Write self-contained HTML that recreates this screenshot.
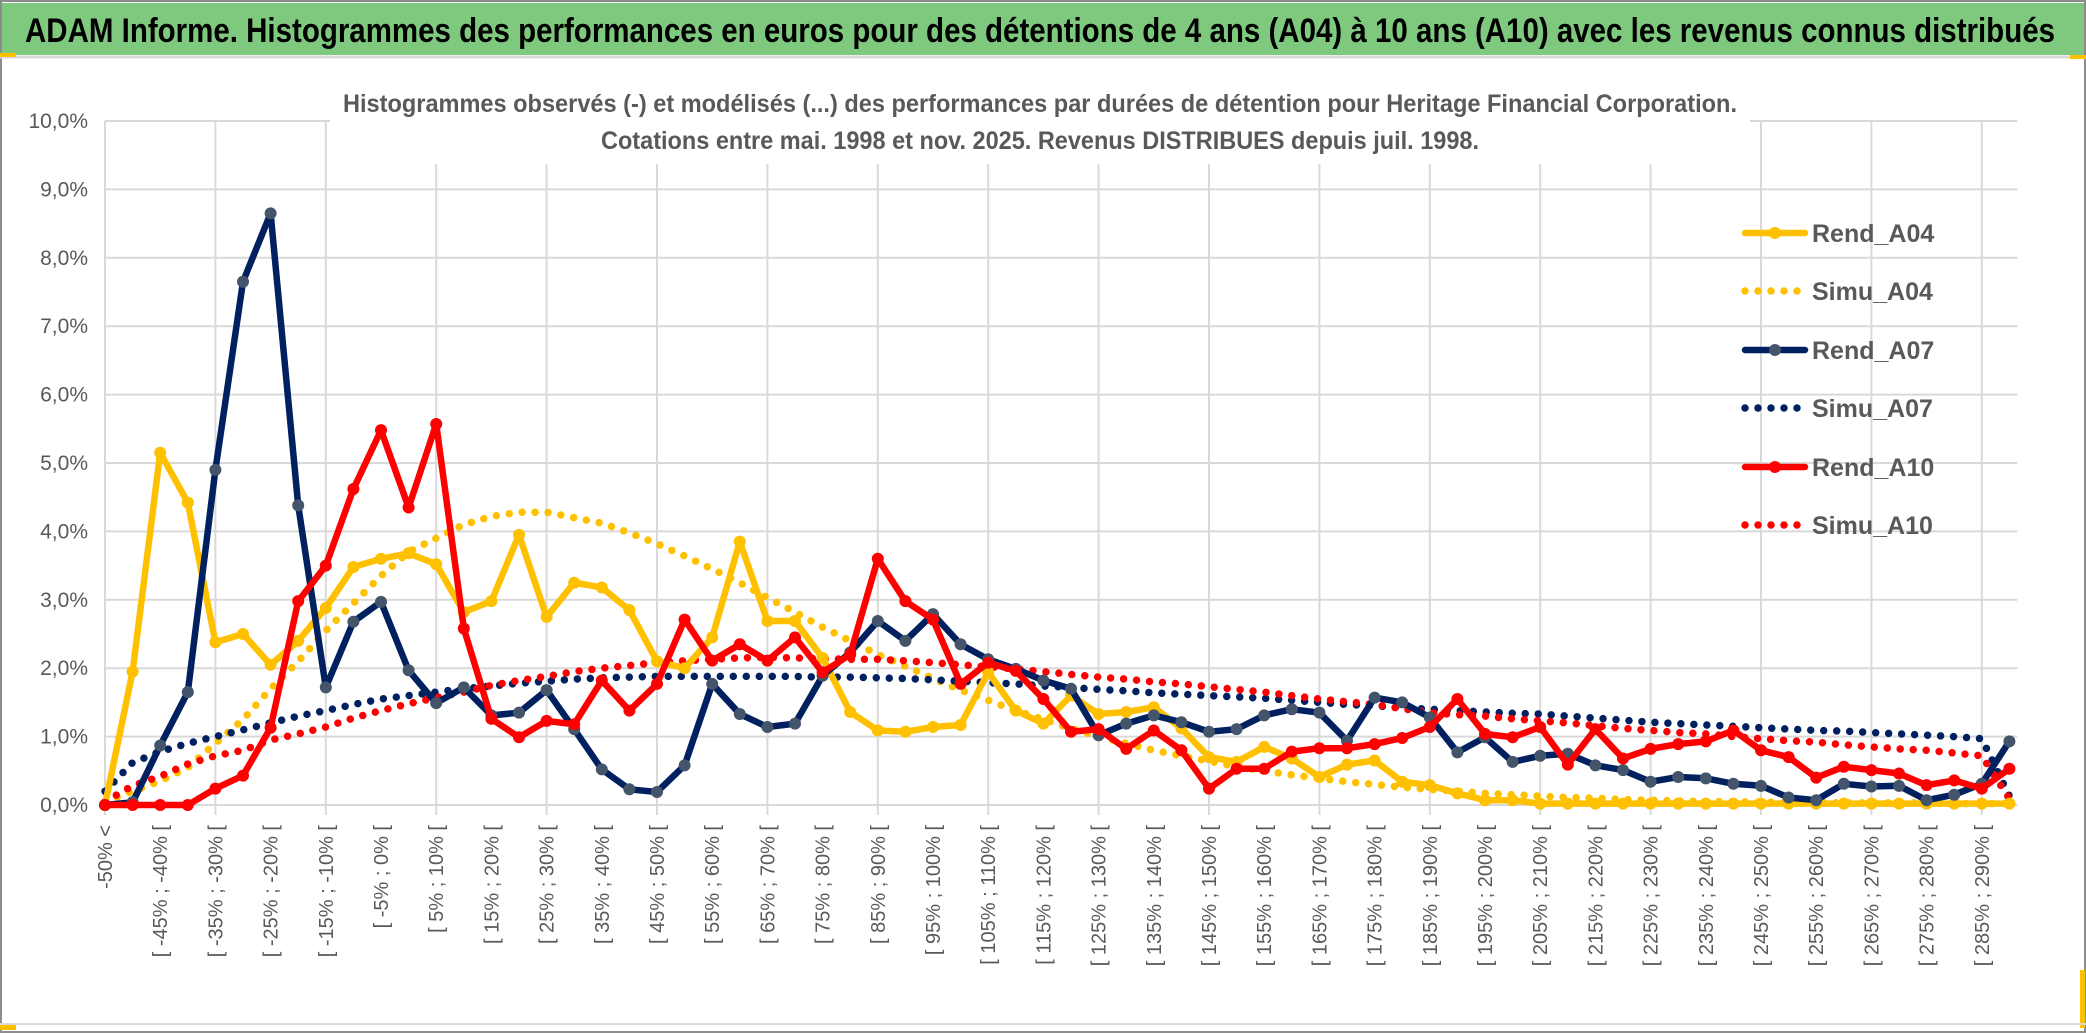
<!DOCTYPE html>
<html><head><meta charset="utf-8">
<style>
html,body{margin:0;padding:0;background:#fff;}
#wrap{position:relative;width:2086px;height:1033px;overflow:hidden;font-family:"Liberation Sans",sans-serif;}
svg text{font-family:"Liberation Sans",sans-serif;}
</style></head>
<body>
<div id="wrap">
<svg id="chart" width="2086" height="1033" viewBox="0 0 2086 1033" xmlns="http://www.w3.org/2000/svg">
  <rect x="0" y="0" width="2086" height="1033" fill="#fff"/>
  <rect x="1" y="1" width="2084" height="1031" fill="none" stroke="#8c8c8c" stroke-width="2"/>
  <rect x="2" y="3" width="2082" height="52" fill="#7fc97f"/>
  <line x1="0" y1="57" x2="2086" y2="57" stroke="#d9d9d9" stroke-width="3"/>
  <rect x="0" y="53" width="16" height="4" fill="#ffc000"/>
  <rect x="0" y="1024" width="16" height="6" fill="#ffc000"/>
  <rect x="2080" y="970" width="5" height="58" fill="#ffc000"/>
  <rect x="2070" y="55" width="16" height="4" fill="#ffc000"/>
  <line x1="0" y1="1024" x2="2086" y2="1024" stroke="#d9d9d9" stroke-width="2"/>
  <text x="25" y="42" font-size="34" font-weight="bold" fill="#000" textLength="2030" lengthAdjust="spacingAndGlyphs">ADAM Informe. Histogrammes des performances en euros pour des détentions de 4 ans (A04) à 10 ans (A10) avec les revenus connus distribués</text>
  <g id="grid"></g>
  <g id="ylabels"></g>
  <g id="xlabels"></g>
  <rect x="330" y="78" width="1420" height="86" fill="#fff"/>
  <text x="343" y="112" font-size="25" font-weight="bold" fill="#595959" textLength="1394" lengthAdjust="spacingAndGlyphs">Histogrammes observés (-) et modélisés (...) des performances par durées de détention pour Heritage Financial Corporation.</text>
  <text x="601" y="149" font-size="25" font-weight="bold" fill="#595959" textLength="878" lengthAdjust="spacingAndGlyphs">Cotations entre mai. 1998 et nov. 2025. Revenus DISTRIBUES depuis juil. 1998.</text>
  <g id="series"></g>
  <g id="legend"></g>
</svg>
</div>
<script>
const categories = (function(){ const a=["-50% <"]; for(let c=1;c<70;c++){ a.push("[ "+(-50+5*(c-1))+"% ; "+(-45+5*(c-1))+"% ["); } return a; })();
const yTicks = ["0,0%","1,0%","2,0%","3,0%","4,0%","5,0%","6,0%","7,0%","8,0%","9,0%","10,0%"];
const rendA04 = [0,1.95,5.15,4.42,2.38,2.5,2.05,2.4,2.88,3.48,3.6,3.68,3.52,2.82,2.98,3.95,2.75,3.25,3.18,2.85,2.1,2.0,2.45,3.85,2.69,2.69,2.15,1.36,1.09,1.07,1.14,1.17,1.94,1.38,1.19,1.6,1.33,1.36,1.43,1.12,0.7,0.63,0.85,0.68,0.41,0.59,0.65,0.34,0.29,0.17,0.07,0.07,0.02,0.02,0.02,0.02,0.02,0.02,0.02,0.02,0.02,0.02,0.02,0.02,0.02,0.02,0.02,0.02,0.02,0.02];
const simuA04 = [0.05,0.2,0.35,0.55,0.9,1.25,1.7,2.1,2.55,2.95,3.35,3.7,3.9,4.1,4.22,4.28,4.28,4.2,4.12,3.98,3.82,3.64,3.45,3.25,3.03,2.82,2.6,2.4,2.2,2.03,1.85,1.68,1.53,1.38,1.25,1.12,1.0,0.9,0.8,0.72,0.64,0.56,0.5,0.44,0.39,0.34,0.3,0.26,0.23,0.2,0.17,0.15,0.13,0.11,0.1,0.08,0.07,0.06,0.05,0.05,0.04,0.04,0.04,0.03,0.03,0.03,0.03,0.02,0.02,0.02];
const rendA07 = [0,0.04,0.87,1.65,4.9,7.65,8.65,4.38,1.72,2.68,2.97,1.97,1.49,1.72,1.31,1.35,1.68,1.11,0.52,0.23,0.19,0.58,1.77,1.33,1.14,1.19,1.89,2.23,2.69,2.4,2.79,2.35,2.13,1.99,1.82,1.7,1.02,1.19,1.31,1.21,1.07,1.11,1.31,1.4,1.35,0.94,1.57,1.5,1.28,0.77,0.99,0.63,0.72,0.75,0.58,0.51,0.34,0.41,0.39,0.31,0.28,0.11,0.07,0.31,0.27,0.28,0.07,0.15,0.31,0.93];
const simuA07 = [0.2,0.62,0.78,0.9,1.0,1.1,1.2,1.3,1.38,1.47,1.55,1.6,1.65,1.7,1.74,1.78,1.81,1.84,1.86,1.87,1.88,1.88,1.88,1.88,1.88,1.88,1.87,1.87,1.86,1.85,1.83,1.81,1.79,1.77,1.74,1.72,1.69,1.67,1.64,1.62,1.6,1.58,1.56,1.53,1.5,1.47,1.45,1.42,1.4,1.38,1.36,1.34,1.33,1.3,1.27,1.24,1.21,1.19,1.17,1.15,1.13,1.11,1.09,1.08,1.06,1.04,1.02,1.0,0.97,0.13];
const rendA10 = [0,0,0,0,0.24,0.43,1.13,2.98,3.5,4.62,5.48,4.35,5.57,2.58,1.26,0.99,1.23,1.18,1.82,1.38,1.77,2.71,2.11,2.35,2.11,2.45,1.94,2.2,3.6,2.98,2.71,1.77,2.08,1.96,1.55,1.07,1.11,0.82,1.09,0.8,0.24,0.53,0.53,0.78,0.83,0.83,0.89,0.98,1.14,1.55,1.04,0.99,1.14,0.59,1.11,0.68,0.82,0.89,0.93,1.09,0.8,0.7,0.4,0.56,0.51,0.46,0.29,0.36,0.24,0.53];
const simuA10 = [0.05,0.28,0.42,0.6,0.72,0.8,0.95,1.04,1.14,1.27,1.38,1.48,1.57,1.65,1.75,1.82,1.88,1.95,2.0,2.04,2.08,2.11,2.13,2.15,2.16,2.15,2.14,2.13,2.13,2.11,2.08,2.05,2.02,1.99,1.95,1.91,1.87,1.84,1.8,1.77,1.73,1.69,1.65,1.6,1.55,1.51,1.47,1.41,1.35,1.32,1.3,1.26,1.23,1.2,1.16,1.12,1.09,1.06,1.04,1.0,0.97,0.94,0.92,0.88,0.85,0.82,0.8,0.76,0.72,0.09];
const seriesNames = ["Rend_A04","Simu_A04","Rend_A07","Simu_A07","Rend_A10","Simu_A10"];

const NS="http://www.w3.org/2000/svg";
const X0=105, DX=27.6, Y0=805, DY=68.4;
function xPos(i){ return X0 + i*DX; }
function yPos(v){ return Y0 - v*DY; }
function mk(tag, attrs, parent){ const e=document.createElementNS(NS,tag); for(const k in attrs) e.setAttribute(k, attrs[k]); parent.appendChild(e); return e; }

const grid=document.getElementById('grid');
for(let t=0;t<yTicks.length;t++){
  const l=mk('line',{x1:X0,x2:xPos(69)+8,y1:yPos(t),y2:yPos(t),stroke:'#d9d9d9','stroke-width':2},grid);
  
  
  const tx=mk('text',{x:88,y:yPos(t)+7,'text-anchor':'end','font-size':21,fill:'#595959','font-family':'Liberation Sans Narrow, Liberation Sans, sans-serif'},document.getElementById('ylabels'));
  tx.textContent=yTicks[t];
  
  
}
for(let i=0;i<categories.length;i+=4){
  const l=mk('line',{x1:xPos(i),x2:xPos(i),y1:yPos(10),y2:Y0+10,stroke:'#d9d9d9','stroke-width':2},grid);
  
  
}
const xl=document.getElementById('xlabels');
for(let i=0;i<categories.length;i+=2){
  const x=xPos(i)+7, y=825;
  const tx=mk('text',{x:x,y:y,'text-anchor':'end','font-size':20,fill:'#595959',transform:'rotate(-90 '+x+' '+y+')'},xl);
  tx.textContent=categories[i];
  
  
}

const sg=document.getElementById('series');
const styles=[
  {data:rendA04,color:'#ffc000',dotted:false,marker:'#ffc000'},
  {data:simuA04,color:'#ffc000',dotted:true},
  {data:rendA07,color:'#002060',dotted:false,marker:'#44546a'},
  {data:simuA07,color:'#002060',dotted:true},
  {data:rendA10,color:'#ff0000',dotted:false,marker:'#ff0000'},
  {data:simuA10,color:'#ff0000',dotted:true}
];
const order=[1,3,5,0,2,4];
for(const si of order){
  const s=styles[si];
  const pts=s.data.map((v,i)=>xPos(i).toFixed(1)+','+yPos(v).toFixed(1)).join(' ');
  const attrs={points:pts,fill:'none',stroke:s.color,'stroke-width':s.dotted?7.5:6.5,'stroke-linejoin':'round','stroke-linecap':'round'};
  if(s.dotted){ attrs['stroke-dasharray']='0 13'; }
  const pl=mk('polyline',attrs,sg);
  
  
  if(s.marker){
    s.data.forEach((v,i)=>{
      const c=mk('circle',{cx:xPos(i),cy:yPos(v),r:6,fill:s.marker},sg);
      
      
    });
  }
}

const lg=document.getElementById('legend');
const rows=[233,291,350,408,467,525];
seriesNames.forEach((n,k)=>{
  const s=styles[k], y=rows[k];
  const attrs={x1:1745,x2:1805,y1:y,y2:y,stroke:s.color,'stroke-width':s.dotted?7.5:6.5,'stroke-linecap':'round'};
  if(s.dotted){ attrs['stroke-dasharray']='0 13'; }
  const l=mk('line',attrs,lg);
  
  
  if(s.marker){ mk('circle',{cx:1775,cy:y,r:6,fill:s.marker},lg); }
  const t=mk('text',{x:1812,y:y+9,'font-size':25,'font-weight':'bold',fill:'#595959'},lg);
  t.textContent=n;
  
  
});
</script>
</body></html>
